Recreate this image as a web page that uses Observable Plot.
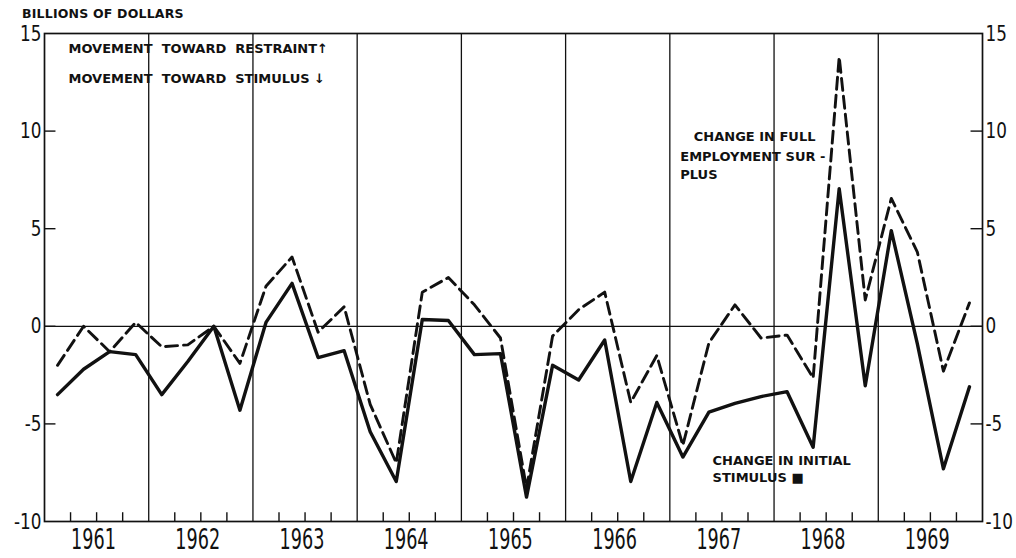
<!DOCTYPE html>
<html>
<head>
<meta charset="utf-8">
<script src="https://cdn.jsdelivr.net/npm/d3@7"></script>
<script src="https://cdn.jsdelivr.net/npm/@observablehq/plot@0.6"></script>
<style>
  body { margin: 0; background: #fff; }
  #wrap { position: relative; width: 1016px; height: 558px; overflow: hidden; }
  #unit { position: absolute; left: 22px; top: 6px; font: bold 12.5px "DejaVu Sans", sans-serif; letter-spacing: 0.2px; color: #111; }
  svg { overflow: visible; }
</style>
</head>
<body>
<div id="wrap"><div id="unit">BILLIONS OF DOLLARS</div></div>
<script>
// Years (each split into four quarters)
const years = [1961, 1962, 1963, 1964, 1965, 1966, 1967, 1968, 1969];

// Change in initial stimulus (solid), quarterly, billions of dollars
const initialStimulus = [
  -3.5, -2.2, -1.3, -1.45,
  -3.5, -1.8, 0.0, -4.3,
  0.2, 2.2, -1.6, -1.25,
  -5.4, -7.95, 0.35, 0.3,
  -1.45, -1.4, -8.75, -2.0,
  -2.75, -0.7, -7.95, -3.9,
  -6.7, -4.4, -3.95, -3.6,
  -3.35, -6.2, 7.05, -3.05,
  4.9, -0.9, -7.3, -3.1
];

// Change in full employment surplus (dashed)
const fullEmploymentSurplus = [
  -2.0, 0.0, -1.3, 0.2,
  -1.05, -0.95, 0.0, -1.9,
  2.05, 3.55, -0.3, 1.0,
  -4.0, -7.0, 1.75, 2.5,
  1.1, -0.6, -8.3, -0.5,
  0.85, 1.75, -3.9, -1.5,
  -6.1, -0.85, 1.1, -0.6,
  -0.45, -2.65, 13.8, 1.35,
  6.55, 3.8, -2.3, 1.2
];

const yTicks = [-10, -5, 0, 5, 10, 15];
const yearLabels = years.map(String);

// Build tables
const t0 = years[0];
const tEnd = years[years.length - 1] + 1;
const solid = initialStimulus.map((v, i) => ({t: t0 + (i + 0.5) / 4, v}));
const dashed = fullEmploymentSurplus.map((v, i) => ({t: t0 + (i + 0.5) / 4, v}));
const dividers = years.slice(1);
const quarterTicks = years.flatMap(y => [y + 0.25, y + 0.5, y + 0.75]);
const yearCenters = years.map((y, i) => ({t: y + 0.47, label: yearLabels[i]}));
const yMin = yTicks[0], yMax = yTicks[yTicks.length - 1];

const numFont = '"DejaVu Sans Condensed", "DejaVu Sans", sans-serif';
const labFont = '"DejaVu Sans", sans-serif';

const lab = (txt, x, y) => Plot.text([txt], {x: () => x, y: () => y, text: d => d, textAnchor: "start", fontSize: 13, fontWeight: "bold", fontFamily: labFont});

const chart = Plot.plot({
  width: 1016,
  height: 558,
  marginLeft: 44,
  marginRight: 34,
  marginTop: 33,
  marginBottom: 37,
  style: {background: "transparent", color: "#111"},
  x: {type: "linear", domain: [t0, tEnd], axis: null},
  y: {type: "linear", domain: [yMin, yMax], axis: null},
  marks: [
    // frame
    Plot.frame({stroke: "#111", strokeWidth: 1.7}),
    // year dividers
    Plot.ruleX(dividers, {stroke: "#111", strokeWidth: 1.3}),
    // zero line
    Plot.ruleY([0], {stroke: "#111", strokeWidth: 1.2}),
    // quarter ticks at bottom
    Plot.ruleX(quarterTicks, {y1: yMin, y2: yMin + 0.45, stroke: "#111", strokeWidth: 1.4}),
    // y ticks inward (left and right)
    Plot.ruleY(yTicks.slice(1, -1), {x1: t0, x2: t0 + 0.11, stroke: "#111", strokeWidth: 1.4}),
    Plot.ruleY(yTicks.slice(1, -1), {x1: tEnd - 0.11, x2: tEnd, stroke: "#111", strokeWidth: 1.4}),
    // y tick labels
    Plot.text(yTicks, {x: () => t0, y: d => d, text: d => String(d), textAnchor: "end", dx: -3, fontSize: 22, fontFamily: numFont, ariaDescription: "ylab"}),
    Plot.text(yTicks, {x: () => tEnd, y: d => d, text: d => String(d), textAnchor: "start", dx: 3, fontSize: 22, fontFamily: numFont, ariaDescription: "ylab"}),
    // year labels
    Plot.text(yearCenters, {x: "t", y: () => yMin, text: "label", dy: 19, fontSize: 28, fontFamily: numFont, ariaDescription: "yearlab"}),
    // series
    Plot.line(dashed, {x: "t", y: "v", stroke: "#111", strokeWidth: 2.9, strokeDasharray: "12,6"}),
    Plot.line(solid, {x: "t", y: "v", stroke: "#111", strokeWidth: 3.4}),
    // annotations
    lab("MOVEMENT  TOWARD  RESTRAINT↑", t0 + 0.23, 14.2),
    lab("MOVEMENT  TOWARD  STIMULUS ↓", t0 + 0.23, 12.7),
    lab("CHANGE IN FULL", 1967.23, 9.7),
    lab("EMPLOYMENT SUR -", 1967.10, 8.7),
    lab("PLUS", 1967.10, 7.75),
    lab("CHANGE IN INITIAL", 1967.41, -6.9),
    lab("STIMULUS ■", 1967.41, -7.75)
  ]
});
document.getElementById("wrap").appendChild(chart);

// narrow the digits horizontally, like the condensed lettering of the original
function narrow(sel, s) {
  d3.select(chart).selectAll(sel).each(function() {
    const tr = this.getAttribute("transform");
    if (tr && tr.indexOf("translate") >= 0) {
      this.setAttribute("transform", tr + ` scale(${s},1)`);
    } else {
      const x = +(this.getAttribute("x") || 0), y = +(this.getAttribute("y") || 0);
      this.removeAttribute("x"); this.removeAttribute("y");
      this.setAttribute("transform", `translate(${x},${y}) scale(${s},1)` + (tr ? " " + tr : ""));
    }
  });
}
narrow('g[aria-description="yearlab"] text', 0.7);
narrow('g[aria-description="ylab"] text', 0.85);
</script>
</body>
</html>
